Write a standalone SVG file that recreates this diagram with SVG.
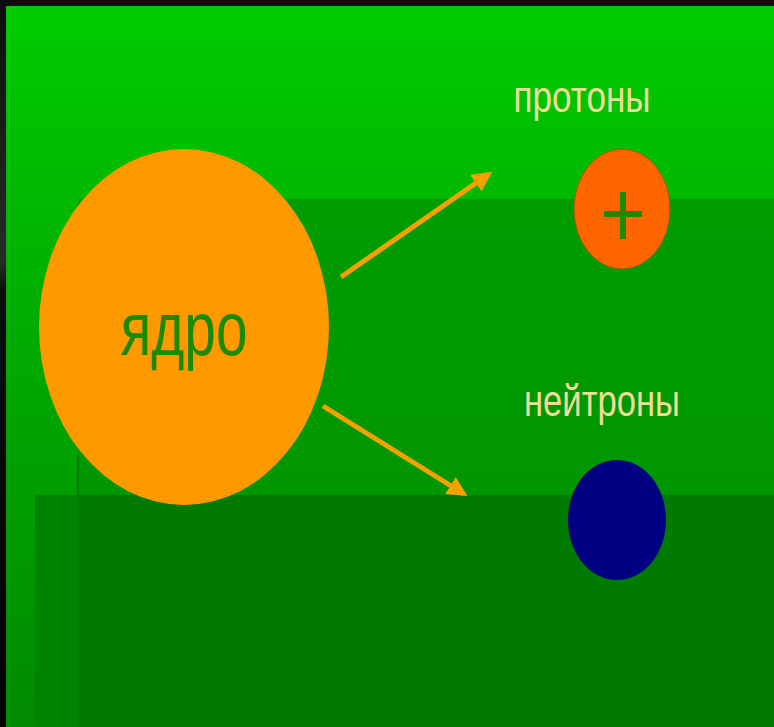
<svg xmlns="http://www.w3.org/2000/svg" width="774" height="727" viewBox="0 0 774 727">
  <defs>
    <linearGradient id="bg" x1="0" y1="0" x2="0" y2="1">
      <stop offset="0" stop-color="#00cc00"/>
      <stop offset="0.5" stop-color="#00a800"/>
      <stop offset="1" stop-color="#008a00"/>
    </linearGradient>
    <linearGradient id="r1" x1="0" y1="0" x2="0" y2="1">
      <stop offset="0" stop-color="#009c00"/>
      <stop offset="1" stop-color="#009200"/>
    </linearGradient>
    <linearGradient id="frame" x1="0" y1="0" x2="0" y2="1">
      <stop offset="0" stop-color="#0d0d0d"/>
      <stop offset="0.36" stop-color="#2a2a2a"/>
      <stop offset="0.4" stop-color="#0d0d0d"/>
      <stop offset="1" stop-color="#000000"/>
    </linearGradient>
    <marker id="ah" viewBox="0 0 10 10" refX="8" refY="5" markerWidth="4" markerHeight="4" orient="auto" markerUnits="strokeWidth">
      <path d="M0,0 L10,5 L0,10 z" fill="#f7a000"/>
    </marker>
    <style>
      .lbl { font-family: "Liberation Sans", Arial, sans-serif; fill: #eedd99; }
      .conn { stroke: #f7a000; stroke-width: 5; fill: none; marker-end: url(#ah); }
    </style>
  </defs>
  <g id="background">
    <rect x="0" y="0" width="774" height="727" fill="url(#frame)"/>
    <rect x="6" y="6" width="768" height="721" fill="url(#bg)"/>
    <rect x="78" y="199" width="696" height="528" fill="url(#r1)"/>
    <rect x="35" y="495" width="43" height="232" fill="#008400"/>
    <rect x="78" y="495" width="696" height="232" fill="#007a00"/>
    <line x1="78" y1="455" x2="78" y2="497" stroke="#007a00" stroke-width="2"/>
  </g>
  <g id="connectors">
    <line class="conn" x1="341" y1="277" x2="489" y2="174"/>
    <line class="conn" x1="323" y1="406" x2="464" y2="494"/>
  </g>
  <g id="nucleus">
    <ellipse cx="184" cy="327" rx="145" ry="178" fill="#ff9900"/>
    <text x="184" y="355" font-family="Liberation Sans, Arial, sans-serif" font-size="76" fill="#1a8a00" text-anchor="middle" textLength="127" lengthAdjust="spacingAndGlyphs">ядро</text>
  </g>
  <g id="protons">
    <text class="lbl" x="582" y="112" font-size="44" text-anchor="middle" textLength="137" lengthAdjust="spacingAndGlyphs">протоны</text>
    <ellipse cx="622" cy="209" rx="48" ry="60" fill="#ff6600" stroke="#a05a00" stroke-width="1"/>
    <rect x="620" y="192" width="6" height="47" fill="#1a8a00"/>
    <rect x="604" y="211" width="38" height="6" fill="#1a8a00"/>
  </g>
  <g id="neutrons">
    <text class="lbl" x="602" y="416" font-size="44" text-anchor="middle" textLength="156" lengthAdjust="spacingAndGlyphs">нейтроны</text>
    <ellipse cx="617" cy="520" rx="49" ry="60" fill="#000080"/>
  </g>
</svg>
